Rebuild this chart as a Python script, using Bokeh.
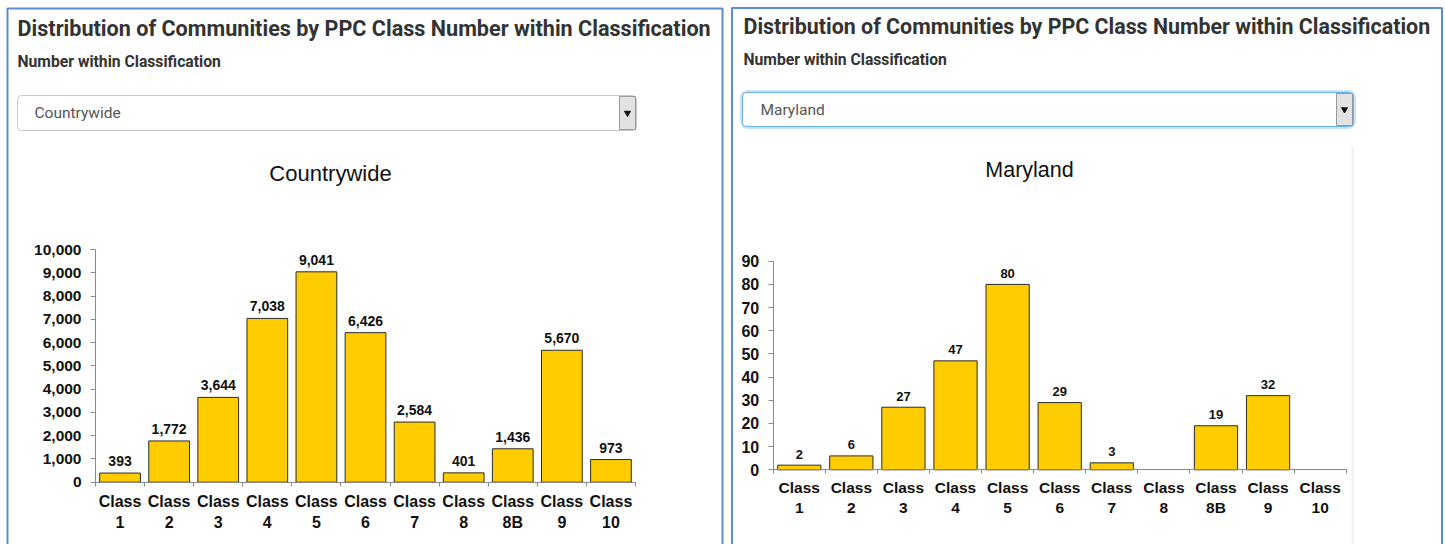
from bokeh.plotting import figure
from bokeh.models import (Range1d, FixedTicker, NumeralTickFormatter, LinearAxis,
                          ColumnDataSource, LabelSet)
from bokeh.core.properties import value
from bokeh.layouts import row
from bokeh.embed import file_html
from bokeh.resources import INLINE

# ---------------- data ----------------
categories = ["Class 1", "Class 2", "Class 3", "Class 4", "Class 5", "Class 6",
              "Class 7", "Class 8", "Class 8B", "Class 9", "Class 10"]
tick_labels = ["Class\n1", "Class\n2", "Class\n3", "Class\n4", "Class\n5", "Class\n6",
               "Class\n7", "Class\n8", "Class\n8B", "Class\n9", "Class\n10"]
countrywide = [393, 1772, 3644, 7038, 9041, 6426, 2584, 401, 1436, 5670, 973]
maryland = [2, 6, 27, 47, 80, 29, 3, None, 19, 32, None]
countrywide_yticks = list(range(0, 10001, 1000))
maryland_yticks = list(range(0, 91, 10))

heading = "Distribution of Communities by PPC Class Number within Classification"
subheading = "Number within Classification"

BAR = "#FFCC00"
AXIS = "#8a8a8a"
PANEL = "#5b8dd0"
CHART_FONT = "Liberation Sans"
HEAD_FONT = "Roboto"
TOP = 0  # page offset of the figures


def make_panel(name, values, yticks, offx, W, H, g):
    n = len(categories)
    ymax = yticks[-1]
    # canvas positions of the chart's axes (layout, from page coordinates)
    ax0, ax1 = g["ax0"] - offx, g["ax1"] - offx
    ay0, ay1 = g["ay0"] - TOP, g["ay1"] - TOP
    ux = (ax1 - ax0) / n
    uy = (ay0 - ay1) / ymax
    xr = Range1d(-ax0 / ux, n + (W - ax1) / ux)
    yr = Range1d(-(H - ay0) / uy, ymax + ay1 / uy)

    p = figure(width=W, height=H, x_range=xr, y_range=yr,
               x_axis_location=None, y_axis_location=None,
               output_backend="svg", toolbar_location=None,
               min_border=0, min_border_left=0, min_border_right=0,
               min_border_top=0, min_border_bottom=0)
    p.outline_line_color = None
    p.grid.visible = False
    p.background_fill_color = "white"
    p.border_fill_color = "white"
    # page-pixel ranges for the page furniture (heading, dropdown, frame)
    p.extra_x_ranges = {"px": Range1d(offx, offx + W)}
    p.extra_y_ranges = {"py": Range1d(TOP + H, TOP)}
    PX = dict(x_range_name="px", y_range_name="py")

    # panel border
    bl, br, bt = g["border"]
    p.line(x=[bl, bl, br, br], y=[TOP + H + 20, bt, bt, TOP + H + 20],
           line_color=PANEL, line_width=2, **PX)

    # chart image edge
    if g.get("edge") is not None:
        ex, ey = g["edge"]
        p.quad(left=[ex], right=[ex + 2], top=[ey], bottom=[TOP + H + 20],
               fill_color="#efefef", line_color=None, **PX)

    # headings
    hx, hy, sy_ = g["head"]
    p.text(x=[hx], y=[hy], text=[heading], text_font=value(HEAD_FONT),
           text_font_style="bold", text_font_size=g["hsize"], text_color="#333",
           text_baseline="middle", text_align="left", **PX)
    p.text(x=[hx], y=[sy_], text=[subheading], text_font=value(HEAD_FONT),
           text_font_style="bold", text_font_size=g["ssize"], text_color="#333",
           text_baseline="middle", text_align="left", **PX)

    # dropdown
    l, r, t, b = g["dd"]
    if g["focus"]:
        p.quad(left=[l], right=[r], top=[t], bottom=[b], fill_color=None,
               line_color="#66afe9", line_alpha=0.35, line_width=5,
               border_radius=5, **PX)
    p.quad(left=[l], right=[r], top=[t], bottom=[b], fill_color="white",
           line_color="#66afe9" if g["focus"] else "#c8c8c8", line_width=1,
           border_radius=4, **PX)
    bl2, br2, bt2, bb2 = g["btn"]
    p.quad(left=[bl2], right=[br2], top=[bt2], bottom=[bb2], fill_color="#e2e2e2",
           line_color="#9a9a9a", line_width=1, **PX)
    p.scatter(x=[(bl2 + br2) / 2], y=[(bt2 + bb2) / 2], marker="inverted_triangle",
              size=6, fill_color="#111", line_color="#111", **PX)
    p.text(x=[g["ddtx"]], y=[(t + b) / 2], text=[name], text_font=value(HEAD_FONT),
           text_font_size="15.5px", text_color="#555", text_baseline="middle",
           text_align="left", **PX)

    # chart title
    tx, ty = g["title"]
    p.text(x=[tx], y=[ty], text=[name], text_font=value(CHART_FONT),
           text_font_size=g["tsize"], text_color="#111", text_baseline="middle",
           text_align="center", **PX)

    # bars
    xs = [i + 0.5 for i in range(n)]
    vals = [float("nan") if v is None else v for v in values]
    src = ColumnDataSource(dict(x=xs, top=vals, cat=categories))
    p.vbar(x="x", top="top", width=0.83, source=src, fill_color=BAR,
           line_color="#2b2b2b", line_width=1)

    # value labels
    lsrc = ColumnDataSource(dict(
        x=[x for x, v in zip(xs, values) if v is not None],
        y=[v for v in values if v is not None],
        t=[f"{v:,}" for v in values if v is not None]))
    p.add_layout(LabelSet(x="x", y="y", text="t", source=lsrc,
                          y_offset=g["voff"], text_align="center",
                          text_baseline="middle", text_font=value(CHART_FONT),
                          text_font_style="bold", text_font_size=g["vsize"],
                          text_color="#111"))

    # axes
    xa = LinearAxis(ticker=FixedTicker(ticks=xs, minor_ticks=list(range(n + 1))),
                    fixed_location=0, bounds=(0, n))
    xa.major_label_overrides = {float(x): lab for x, lab in zip(xs, tick_labels)}
    xa.major_tick_line_color = None
    xa.major_tick_out = 0
    xa.major_tick_in = 0
    xa.minor_tick_out = 4
    xa.minor_tick_in = 0
    xa.minor_tick_line_color = AXIS
    xa.axis_line_color = AXIS
    xa.major_label_standoff = g["xstand"]
    xa.major_label_text_font = CHART_FONT
    xa.major_label_text_font_style = "bold"
    xa.major_label_text_font_size = g["xsize"]
    xa.major_label_text_color = "#111"
    p.add_layout(xa, "below")

    ya = LinearAxis(ticker=FixedTicker(ticks=yticks, minor_ticks=[]),
                    formatter=NumeralTickFormatter(format="0,0"),
                    fixed_location=0, bounds=(yticks[0], ymax))
    ya.major_tick_out = 5
    ya.major_tick_in = 0
    ya.major_tick_line_color = AXIS
    ya.axis_line_color = AXIS
    ya.major_label_standoff = 9
    ya.major_label_text_font = CHART_FONT
    ya.major_label_text_font_style = "bold"
    ya.major_label_text_font_size = g["ysize"]
    ya.major_label_text_color = "#111"
    p.add_layout(ya, "left")
    return p


p1 = make_panel("Countrywide", countrywide, countrywide_yticks, 0, 726, 544, dict(
    ax0=95, ax1=635, ay0=481.7, ay1=249,
    border=(7, 722, 8), edge=None,
    head=(17, 28, 61), hsize="21.6px", ssize="15.7px",
    dd=(17, 636, 95, 130), btn=(619, 635, 96, 129), ddtx=34, focus=False,
    title=(330, 173), tsize="22px",
    voff=12, vsize="14px", xsize="16px", ysize="15.5px", xstand=7))

p2 = make_panel("Maryland", maryland, maryland_yticks, 726, 719, 544, dict(
    ax0=772.7, ax1=1345.7, ay0=469.3, ay1=260.7,
    border=(731.5, 1441.5, 7.5), edge=(1351, 147),
    head=(743, 26, 59), hsize="21.4px", ssize="15.7px",
    dd=(742, 1353, 92, 126), btn=(1336, 1352, 93, 125), ddtx=760, focus=True,
    title=(1029, 169), tsize="21.5px",
    voff=11, vsize="13px", xsize="15.5px", ysize="16px", xstand=5))

layout = row(p1, p2)
open("out.html", "w").write(file_html(layout, INLINE))
